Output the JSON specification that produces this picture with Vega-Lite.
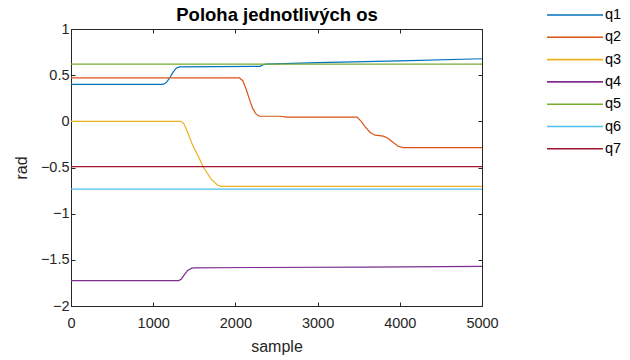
{
  "$schema": "https://vega.github.io/schema/vega-lite/v6.json",
  "width": 411,
  "height": 277,
  "autosize": {"type": "none"},
  "padding": {"left": 71, "top": 29, "right": 148, "bottom": 54},
  "background": "white",
  "config": {
    "view": {"stroke": null},
    "axis": {
      "domainColor": "#262626", "tickColor": "#262626", "labelColor": "#262626", "titleColor": "#262626",
      "labelFont": "Liberation Sans", "labelFontSize": 14.5, "titleFont": "Liberation Sans", "titleFontSize": 16, "titleFontWeight": "normal",
      "tickSize": -4, "grid": false, "domainWidth": 1, "tickWidth": 1
    },
    "legend": {"labelFont": "Liberation Sans", "labelFontSize": 14.5, "labelColor": "#000000"}
  },
  "resolve": {"axis": {"x": "independent", "y": "independent"}},
  "data": {"values": [
    {"series": "q1", "sample": 0, "value": 0.40},
    {"series": "q1", "sample": 1120, "value": 0.40},
    {"series": "q1", "sample": 1160, "value": 0.42},
    {"series": "q1", "sample": 1200, "value": 0.47},
    {"series": "q1", "sample": 1240, "value": 0.53},
    {"series": "q1", "sample": 1280, "value": 0.575},
    {"series": "q1", "sample": 1320, "value": 0.59},
    {"series": "q1", "sample": 2300, "value": 0.595},
    {"series": "q1", "sample": 2330, "value": 0.61},
    {"series": "q1", "sample": 2370, "value": 0.62},
    {"series": "q1", "sample": 3000, "value": 0.635},
    {"series": "q1", "sample": 4000, "value": 0.655},
    {"series": "q1", "sample": 5000, "value": 0.678},
    {"series": "q2", "sample": 0, "value": 0.47},
    {"series": "q2", "sample": 2050, "value": 0.47},
    {"series": "q2", "sample": 2090, "value": 0.44},
    {"series": "q2", "sample": 2130, "value": 0.35},
    {"series": "q2", "sample": 2170, "value": 0.24},
    {"series": "q2", "sample": 2210, "value": 0.14},
    {"series": "q2", "sample": 2250, "value": 0.08},
    {"series": "q2", "sample": 2290, "value": 0.055},
    {"series": "q2", "sample": 2550, "value": 0.055},
    {"series": "q2", "sample": 2620, "value": 0.045},
    {"series": "q2", "sample": 3480, "value": 0.045},
    {"series": "q2", "sample": 3530, "value": 0.0},
    {"series": "q2", "sample": 3580, "value": -0.06},
    {"series": "q2", "sample": 3640, "value": -0.12},
    {"series": "q2", "sample": 3700, "value": -0.15},
    {"series": "q2", "sample": 3800, "value": -0.16},
    {"series": "q2", "sample": 3850, "value": -0.18},
    {"series": "q2", "sample": 3920, "value": -0.23},
    {"series": "q2", "sample": 3980, "value": -0.27},
    {"series": "q2", "sample": 4040, "value": -0.285},
    {"series": "q2", "sample": 5000, "value": -0.285},
    {"series": "q3", "sample": 0, "value": 0.0},
    {"series": "q3", "sample": 1334, "value": 0.0},
    {"series": "q3", "sample": 1370, "value": -0.02},
    {"series": "q3", "sample": 1420, "value": -0.12},
    {"series": "q3", "sample": 1480, "value": -0.26},
    {"series": "q3", "sample": 1550, "value": -0.38},
    {"series": "q3", "sample": 1606, "value": -0.49},
    {"series": "q3", "sample": 1700, "value": -0.62},
    {"series": "q3", "sample": 1780, "value": -0.69},
    {"series": "q3", "sample": 1830, "value": -0.705},
    {"series": "q3", "sample": 5000, "value": -0.705},
    {"series": "q4", "sample": 0, "value": -1.725},
    {"series": "q4", "sample": 1310, "value": -1.725},
    {"series": "q4", "sample": 1340, "value": -1.71},
    {"series": "q4", "sample": 1380, "value": -1.66},
    {"series": "q4", "sample": 1420, "value": -1.615},
    {"series": "q4", "sample": 1470, "value": -1.59},
    {"series": "q4", "sample": 1500, "value": -1.588},
    {"series": "q4", "sample": 2200, "value": -1.583},
    {"series": "q4", "sample": 3600, "value": -1.578},
    {"series": "q4", "sample": 5000, "value": -1.571},
    {"series": "q5", "sample": 0, "value": 0.62},
    {"series": "q5", "sample": 5000, "value": 0.62},
    {"series": "q6", "sample": 0, "value": -0.735},
    {"series": "q6", "sample": 5000, "value": -0.735},
    {"series": "q7", "sample": 0, "value": -0.49},
    {"series": "q7", "sample": 5000, "value": -0.49}
  ]},
  "layer": [
    {
      "mark": {"type": "line", "strokeWidth": 1.2, "clip": true},
      "encoding": {
        "x": {"field": "sample", "type": "quantitative", "scale": {"domain": [0, 5000], "nice": false}, "axis": {"orient": "bottom", "title": "sample", "format": "d", "values": [0, 1000, 2000, 3000, 4000, 5000], "labelPadding": 14, "titlePadding": 9, "labelFlush": false}},
        "y": {"field": "value", "type": "quantitative", "scale": {"domain": [-2, 1], "nice": false, "zero": false}, "axis": {"orient": "left", "title": "rad", "format": "~g", "values": [-2, -1.5, -1, -0.5, 0, 0.5, 1], "labelPadding": 6, "titlePadding": 11, "labelFlush": false}},
        "color": {"field": "series", "type": "nominal", "scale": {"domain": ["q1", "q2", "q3", "q4", "q5", "q6", "q7"], "range": ["#0072BD", "#D95319", "#EDB120", "#7E2F8E", "#77AC30", "#4DBEEE", "#A2142F"]},
          "legend": {"title": null, "orient": "none", "legendX": 496, "legendY": -22, "symbolType": "M-4,0H4", "symbolSize": 196, "symbolStrokeWidth": 1.6, "symbolFillColor": "transparent", "labelOffset": 22, "rowPadding": 7.3}}
      }
    },
    {
      "mark": {"type": "line", "strokeOpacity": 0},
      "encoding": {
        "x": {"field": "sample", "type": "quantitative", "axis": {"orient": "top", "labels": false, "title": "Poloha jednotlivých os", "titleFontWeight": "bold", "titleFontSize": 18.5, "titleColor": "#000000", "titlePadding": 4, "values": [0, 1000, 2000, 3000, 4000, 5000]}},
        "y": {"field": "value", "type": "quantitative", "axis": {"orient": "right", "labels": false, "title": null, "values": [-2, -1.5, -1, -0.5, 0, 0.5, 1]}},
        "detail": {"field": "series"}
      }
    }
  ]
}
